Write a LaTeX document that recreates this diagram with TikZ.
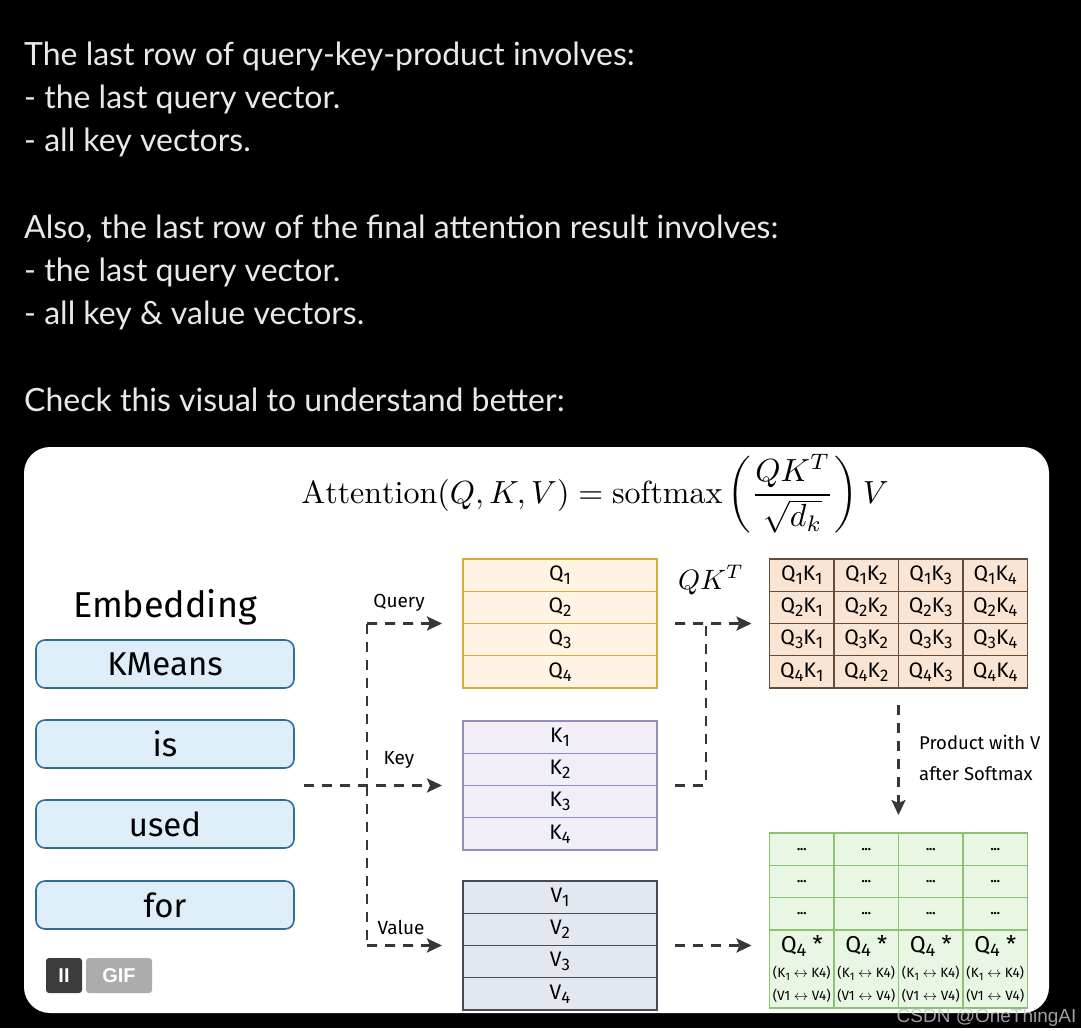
\documentclass[tikz,border=0pt]{standalone}
\usepackage{amsmath}
\usepackage{fontspec}
\usepackage{graphicx}
\usetikzlibrary{positioning, calc, arrows.meta}

\newfontfamily\headfont{Lato}
\newfontfamily\sketch{Fira Sans}
\newfontfamily\badgefont{Liberation Sans}

\definecolor{headtext}{RGB}{231,233,234}
\definecolor{wordfill}{RGB}{222,238,248}
\definecolor{wordline}{RGB}{46,110,150}
\definecolor{qfill}{RGB}{255,243,227}
\definecolor{qline}{RGB}{214,170,60}
\definecolor{kfill}{RGB}{241,238,248}
\definecolor{kline}{RGB}{150,140,190}
\definecolor{vfill}{RGB}{227,232,240}
\definecolor{vline}{RGB}{70,75,85}
\definecolor{qkfill}{RGB}{250,229,212}
\definecolor{qkline}{RGB}{100,75,60}
\definecolor{outfill}{RGB}{234,246,228}
\definecolor{outline}{RGB}{140,195,110}
\definecolor{arrowgray}{RGB}{55,55,55}
\definecolor{badgedark}{RGB}{60,60,60}
\definecolor{badgelight}{RGB}{172,172,172}

\newcommand{\idx}[1]{\raisebox{-0.35ex}{\scalebox{0.8}{#1}}}

\begin{document}
\begin{tikzpicture}[x=1pt, y=-1pt, node distance=0pt,
   head/.style={anchor=base west, inner sep=0pt, text=headtext, font=\headfont\fontsize{32}{36}\selectfont},
   word/.style={draw=wordline, fill=wordfill, line width=1.6pt, rounded corners=9pt, minimum width=258pt, minimum height=48pt, font=\sketch\fontsize{33}{36}\selectfont},
   qrow/.style={draw=qline, fill=qfill, line width=1.4pt, minimum width=194pt, minimum height=32.25pt, inner sep=0pt, outer sep=0pt, font=\sketch\fontsize{21}{24}\selectfont},
   krow/.style={qrow, draw=kline, fill=kfill},
   vrow/.style={qrow, draw=vline, fill=vfill},
   qkcell/.style={draw=qkline, fill=qkfill, line width=1.4pt, minimum width=64.5pt, minimum height=32.25pt, inner sep=0pt, outer sep=0pt, font=\sketch\fontsize{21}{24}\selectfont},
   outcell/.style={qkcell, draw=outline, fill=outfill},
   dashline/.style={draw=arrowgray, line width=2.6pt, dash pattern=on 10pt off 8pt},
   flow/.style={dashline, -{Stealth[length=15pt, width=14pt, inset=3pt]}},
   tag/.style={inner sep=0pt, font=\sketch\fontsize{19}{22}\selectfont}
]
% Background
\fill[black] (0,0) rectangle (1081,1028);
\fill[white, rounded corners=26pt] (24,447) rectangle (1049,1013);

% Header text
\node[head] (h1) at (24,65) {The last row of query-key-product involves:};
\node[head] (h2) at (24,108.3) {- the last query vector.};
\node[head] (h3) at (24,151.6) {- all key vectors.};
\node[head] (h4) at (24,238) {Also, the last row of the final attention result involves:};
\node[head] (h5) at (24,281.3) {- the last query vector.};
\node[head] (h6) at (24,324.6) {- all key \& value vectors.};
\node[head] (h7) at (24,411) {Check this visual to understand better:};

% Formula
\node[scale=3.2, anchor=base] (formula) at (595,503)
   {$\mathrm{Attention}(Q,K,V)=\mathrm{softmax}\left(\dfrac{QK^T}{\sqrt{d_k}}\right)V$};

% Embedding words
\node[font=\sketch\fontsize{36}{40}\selectfont] (embed) at (165,607) {Embedding};
\node[word] (kmeans) at (165,664) {KMeans};
\node[word] (is) at (165,744) {is};
\node[word] (used) at (165,824) {used};
\node[word] (for) at (165,905) {for};

% Query, key and value rows
\node[qrow] (q1) at (560,575.1) {Q\idx{1}};
\node[qrow, below=of q1] (q2) {Q\idx{2}};
\node[qrow, below=of q2] (q3) {Q\idx{3}};
\node[qrow, below=of q3] (q4) {Q\idx{4}};
\node[krow] (k1) at (560,737.1) {K\idx{1}};
\node[krow, below=of k1] (k2) {K\idx{2}};
\node[krow, below=of k2] (k3) {K\idx{3}};
\node[krow, below=of k3] (k4) {K\idx{4}};
\node[vrow] (v1) at (560,897.1) {V\idx{1}};
\node[vrow, below=of v1] (v2) {V\idx{2}};
\node[vrow, below=of v2] (v3) {V\idx{3}};
\node[vrow, below=of v3] (v4) {V\idx{4}};

% QK^T matrix
\foreach \r in {1,...,4}
  \foreach \c in {1,...,4}
    \node[qkcell] (qk-\r-\c) at ({737.25+64.5*\c},{542.9+32.25*\r}) {Q\idx{\r}K\idx{\c}};

% Result matrix
\foreach \r in {1,...,3}
  \foreach \c in {1,...,4}
    \node[outcell] (out-\r-\c) at ({737.25+64.5*\c},{816.85+32.3*\r}) {\fontsize{13}{14}\selectfont\bfseries ...};
\foreach \c in {1,...,4}
  \node[outcell, minimum height=78pt, align=center] (out-4-\c) at ({737.25+64.5*\c},969)
    {{\fontsize{23}{24}\selectfont Q\idx{4} *}\\[1pt]
     {\fontsize{13.5}{15}\selectfont (K\idx{1} $\leftrightarrow$ K4)}\\[-1pt]
     {\fontsize{13.5}{15}\selectfont (V1 $\leftrightarrow$ V4)}};

% Labels
\node[tag] (querytag) at (399,603) {Query};
\node[tag] (keytag) at (399,760) {Key};
\node[tag] (valuetag) at (401,927) {Value};
\node[scale=2.8] (qkt) at (711,580) {$QK^T$};
\node[tag, anchor=west, font=\sketch\fontsize{18.5}{22}\selectfont] (prod1) at (919,742) {Product with V};
\node[tag, anchor=west, font=\sketch\fontsize{18.5}{22}\selectfont] (prod2) at (919,774) {after Softmax};

% Arrows
\coordinate (kin) at ($(is.east |- k2.south)+(9,0)$);
\coordinate (qturn) at (367,623.5);
\coordinate (vturn) at (367,945.5);
\coordinate (qkturn) at (706,623.5);
\draw[dashline] (qturn) -- (vturn);
\draw[flow, shorten >=21pt] (qturn) -- (q2.south west);
\draw[flow, shorten >=21pt] (kin) -- (k2.south west);
\draw[flow, shorten >=21pt] (vturn) -- (v2.south west);
\draw[flow, shorten <=18pt, shorten >=18pt] (q2.south east) -- (qk-2-1.south west);
\draw[dashline, shorten <=18pt] (k2.south east) -| (qkturn);
\draw[flow, shorten <=17pt, shorten >=18pt] (qk-4-2.south east) -- (out-1-2.north east);
\draw[flow, shorten <=18pt, shorten >=18pt] (v2.south east) -- (v2.south east -| out-4-1.west);

% Badge and watermark
\node[fill=badgedark, rounded corners=3pt, minimum width=36pt, minimum height=35pt, text=white, font=\badgefont\bfseries\fontsize{20}{22}\selectfont] (pause) at (64,975.5) {II};
\node[fill=badgelight, rounded corners=3pt, minimum width=66pt, minimum height=35pt, text=white, font=\badgefont\bfseries\fontsize{20}{22}\selectfont] (gif) at (119,975.5) {GIF};
\node[anchor=east, text=gray!45, opacity=.8, font=\badgefont\fontsize{19}{20}\selectfont] (mark) at (1080,1018) {CSDN @OneThingAI};
\end{tikzpicture}
\end{document}
